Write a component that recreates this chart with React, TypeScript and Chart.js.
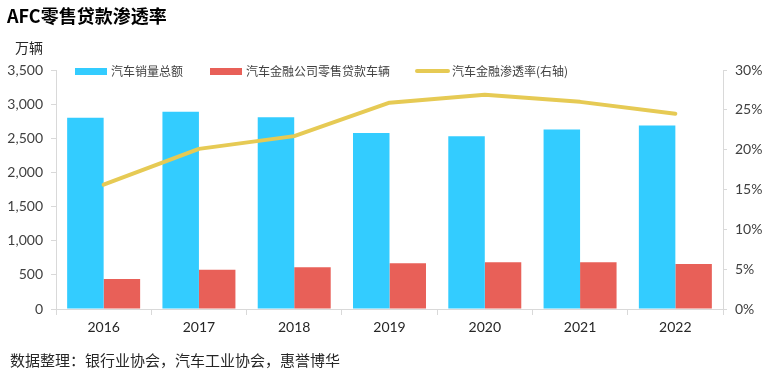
import React, { useEffect, useRef } from "react";
import { Chart, registerables } from "chart.js";
Chart.register(...registerables);

const years = ["2016", "2017", "2018", "2019", "2020", "2021", "2022"];
const totalSales = [2802, 2888, 2808, 2577, 2531, 2627, 2686];
const afcLoans = [439, 576, 610, 669, 684, 684, 659];
const penetration = [15.6, 20.1, 21.7, 25.9, 26.9, 26.0, 24.5];
const leftMax = 3500;
const leftStep = 500;
const rightMax = 30;
const rightStep = 5;

const BLUE = "rgb(51,204,255)";
const RED = "rgb(232,96,88)";
const YELLOW = "rgb(230,202,84)";
const AXIS = "#d9d9d9";
const CJK = '"Noto Sans CJK SC", "Noto Sans", sans-serif';
const LATO = 'Lato, "Noto Sans", sans-serif';

export default function App() {
  const ref = useRef<HTMLCanvasElement | null>(null);
  useEffect(() => {
    if (!ref.current) return;
    const chart = new Chart(ref.current, {
      data: {
        labels: years,
        datasets: [
          {
            type: "line",
            label: "汽车金融渗透率(右轴)",
            data: penetration,
            yAxisID: "y1",
            borderColor: YELLOW,
            backgroundColor: YELLOW,
            borderWidth: 4,
            pointRadius: 0,
            borderCapStyle: "round",
            borderJoinStyle: "round",
            tension: 0,
            order: 0,
          },
          {
            type: "bar",
            label: "汽车销量总额",
            data: totalSales,
            yAxisID: "y",
            backgroundColor: BLUE,
            categoryPercentage: 0.766,
            barPercentage: 1,
            order: 1,
          },
          {
            type: "bar",
            label: "汽车金融公司零售贷款车辆",
            data: afcLoans,
            yAxisID: "y",
            backgroundColor: RED,
            categoryPercentage: 0.766,
            barPercentage: 1,
            order: 1,
          },
        ],
      },
      options: {
        responsive: false,
        animation: false,
        layout: { padding: { top: 70, bottom: 32, left: 0, right: 0 } },
        plugins: { legend: { display: false }, tooltip: { enabled: false } },
        scales: {
          x: {
            offset: true,
            grid: { display: true, drawOnChartArea: false, offset: true, tickLength: 6, color: AXIS },
            border: { display: true, color: AXIS },
            ticks: { font: { family: LATO, size: 14 }, color: "#262626", padding: 4 },
            afterFit: (s: any) => { s.height = 30; },
          },
          y: {
            position: "left",
            min: 0,
            max: leftMax,
            grid: { display: true, drawOnChartArea: false, tickLength: 5, color: AXIS },
            border: { display: true, color: AXIS },
            ticks: {
              stepSize: leftStep,
              font: { family: LATO, size: 14 },
              color: "#404040",
              padding: 8,
              callback: (v: any) => Number(v).toLocaleString("en-US"),
            },
            afterFit: (s: any) => { s.width = 56; },
          },
          y1: {
            position: "right",
            min: 0,
            max: rightMax,
            grid: { display: true, drawOnChartArea: false, tickLength: 4, color: AXIS },
            border: { display: true, color: AXIS },
            ticks: {
              stepSize: rightStep,
              font: { family: LATO, size: 14 },
              color: "#404040",
              padding: 8,
              callback: (v: any) => v + "%",
            },
            afterFit: (s: any) => { s.width = 47; },
          },
        },
      },
    } as any);
    return () => chart.destroy();
  }, []);

  const abs = (o: React.CSSProperties): React.CSSProperties => ({ position: "absolute", whiteSpace: "nowrap", ...o });

  return (
    <div style={{ position: "fixed", left: 0, top: 0, width: 770, height: 371, background: "#fff", overflow: "hidden" }}>
      <canvas ref={ref} width={770} height={371} style={{ position: "absolute", left: 0, top: 0, width: 770, height: 371 }} />
      <div style={abs({ left: 7, top: 5, fontFamily: CJK, fontWeight: 700, fontSize: 18, lineHeight: "20px", color: "#000" })}>AFC零售贷款渗透率</div>
      <div style={abs({ left: 15, top: 39, fontFamily: CJK, fontSize: 14, lineHeight: "16px", color: "#262626" })}>万辆</div>
      <div style={abs({ left: 75, top: 68, width: 32, height: 7, background: BLUE })} />
      <div style={abs({ left: 111, top: 64, fontFamily: CJK, fontSize: 12, lineHeight: "14px", color: "#404040" })}>汽车销量总额</div>
      <div style={abs({ left: 210, top: 68, width: 32, height: 7, background: RED })} />
      <div style={abs({ left: 246, top: 64, fontFamily: CJK, fontSize: 12, lineHeight: "14px", color: "#404040" })}>汽车金融公司零售贷款车辆</div>
      <div style={abs({ left: 415, top: 69, width: 35, height: 4, borderRadius: 2, background: YELLOW })} />
      <div style={abs({ left: 452, top: 64, fontFamily: CJK, fontSize: 12, lineHeight: "14px", color: "#404040" })}>汽车金融渗透率(右轴)</div>
      <div style={abs({ left: 10, top: 351, fontFamily: CJK, fontSize: 15, lineHeight: "18px", color: "#262626" })}>数据整理：银行业协会，汽车工业协会，惠誉博华</div>
    </div>
  );
}
